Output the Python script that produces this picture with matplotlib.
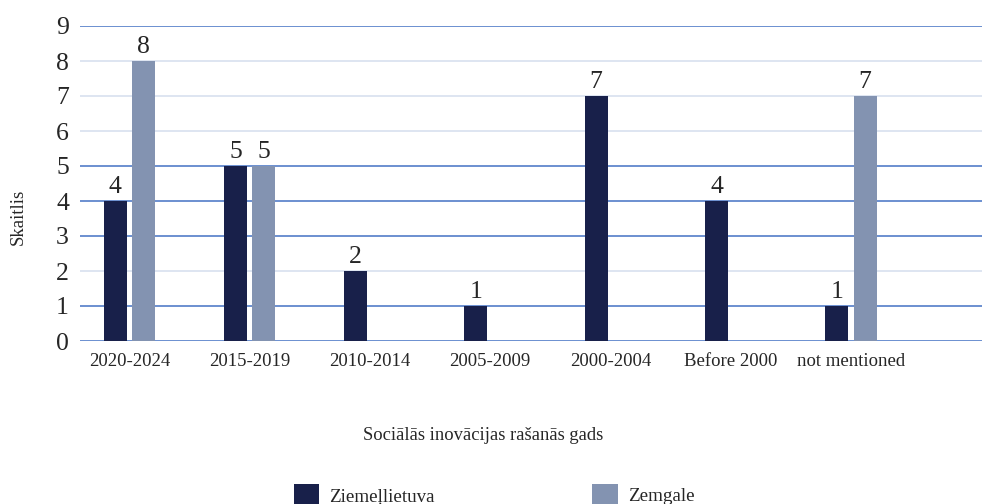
import matplotlib
matplotlib.use("Agg")
import matplotlib.pyplot as plt
import numpy as np

categories = ["2020-2024", "2015-2019", "2010-2014", "2005-2009", "2000-2004", "Before 2000", "not mentioned"]
ziemellietuva = [4, 5, 2, 1, 7, 4, 1]
zemgale = [8, 5, 0, 0, 0, 0, 7]
series_names = ["Ziemeļlietuva", "Zemgale"]
y_ticks = list(range(0, 10))

plt.rcParams['font.family'] = ['Liberation Serif', 'DejaVu Serif']
text_color = '#262626'

fig = plt.figure(figsize=(9.82, 5.04), dpi=100)
ax = fig.add_axes([80/982, 1 - 341/504, 1 - 80/982, (341 - 26)/504])

x = np.arange(len(categories))
w = 0.19
off = 0.118
c1 = '#18204A'
c2 = '#8393B1'

# gridlines (alternating rendering as in reference)
dark = '#4472C4'
light = '#D5DEED'
grid_cols = {0: dark, 1: dark, 2: light, 3: dark, 4: dark, 5: dark, 6: light, 7: light, 8: light, 9: dark}
for t in y_ticks:
    ax.axhline(t, color=grid_cols[t], lw=1.1, zorder=0)

b1 = ax.bar(x - off, ziemellietuva, width=w, color=c1, zorder=2, label=series_names[0])
b2 = ax.bar(x + off, zemgale, width=w, color=c2, zorder=2, label=series_names[1])

ax.bar_label(b1, labels=[str(v) if v else '' for v in ziemellietuva], padding=2,
             fontsize=18.5, color=text_color)
ax.bar_label(b2, labels=[str(v) if v else '' for v in zemgale], padding=2,
             fontsize=18.5, color=text_color)

ax.set_xlim(-0.41, 7.09)
ax.set_ylim(0, 9)
ax.set_yticks(y_ticks)
ax.set_yticklabels([str(t) for t in y_ticks], fontsize=18.5, color=text_color)
ax.set_xticks(x)
ax.set_xticklabels(categories, fontsize=13.5, color=text_color)
ax.tick_params(axis='both', length=0)
ax.tick_params(axis='y', pad=8)
ax.tick_params(axis='x', pad=9)
for s in ax.spines.values():
    s.set_visible(False)

fig.text(18/982, 1 - 217/504, "Skaitlis", rotation=90, ha='center', va='center',
         fontsize=13.5, color=text_color)
fig.text(483/982, 1 - 435/504, "Sociālās inovācijas rašanās gads", ha='center', va='center',
         fontsize=13.4, color=text_color)

fig.legend(handles=[b1, b2], labels=series_names, loc='center',
           bbox_to_anchor=(494/982, 1 - 495/504), ncol=2, frameon=False,
           fontsize=13.7, handlelength=1.35, handleheight=1.35, handletextpad=0.5,
           columnspacing=8.3, borderpad=0, borderaxespad=0, labelcolor=text_color)

fig.savefig("out.png", dpi=100)
